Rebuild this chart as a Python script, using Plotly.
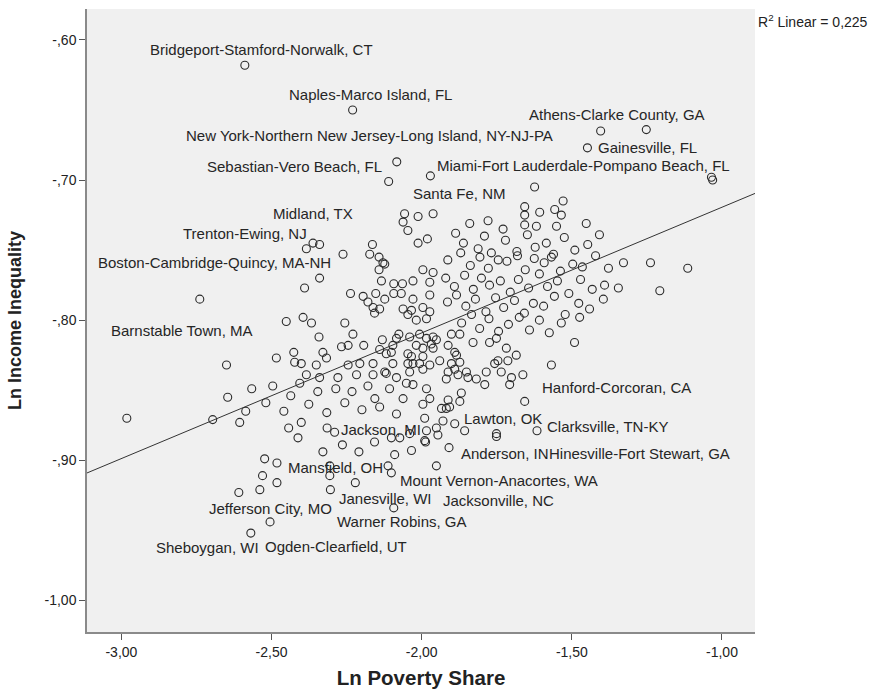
import plotly.graph_objects as go

# Ln poverty share / Ln income inequality for metropolitan areas (unlabelled points)
poverty = [
    -1.031, -1.035, -1.404, -1.624,
    -1.840, -1.779, -1.729, -1.657, -1.657, -1.607, -1.557, -1.529, -1.535, -1.657, -1.618, -1.551, -1.452,
    -2.057, -2.012, -2.062, -2.046, -2.012, -1.981, -2.340, -2.262, -2.164, -2.173, -2.142, -2.129, -2.142,
    -2.123, -1.996, -1.962, -2.390, -2.134, -2.093, -2.064, -2.029, -1.973, -2.237, -2.195, -2.153, -2.123,
    -2.093, -2.068, -2.029, -1.973, -2.179, -2.162, -2.140, -2.157, -2.062, -2.034, -1.996, -1.973, -2.451,
    -2.395, -2.367, -2.256, -2.046, -2.018, -1.984, -2.342, -2.229, -2.131, -2.076, -2.040, -2.007, -1.962,
    -2.267, -2.245, -2.193, -2.329, -2.426, -2.101, -2.118, -2.046, -1.996, -1.968, -1.951, -2.484, -2.423,
    -2.401, -2.317, -2.351, -2.650, -2.245, -2.206, -2.162, -2.096, -2.029, -1.973, -1.996, -2.384, -2.340,
    -2.279, -2.217, -2.162, -2.118, -2.040, -1.996,
    -1.491, -1.568, -1.663, -1.751, -1.829, -1.774, -1.751, -1.718, -1.685, -1.713, -1.757, -1.746, -1.785,
    -1.735, -1.701, -1.707, -1.790, -1.818, -1.846, -1.851, -1.879, -1.912, -1.918, -1.890, -1.901, -1.873,
    -1.884, -1.940, -2.007, -2.034, -2.046, -2.123, -2.084, -2.051, -2.029, -1.984, -2.107, -2.062, -1.996,
    -1.973, -1.934, -1.907, -1.873, -1.868, -1.912, -2.140, -2.084, -1.990, -1.929, -1.890, -1.951, -1.857,
    -1.984, -2.040, -2.073, -2.101, -1.990, -2.090, -2.034, -2.112, -2.084, -1.984, -1.901, -1.873, -1.912,
    -1.890, -2.140, -2.096, -2.018, -1.962,
    -2.523, -2.530, -2.482, -2.539, -2.329, -2.264, -2.209, -2.157, -2.306, -2.306, -2.221, -1.987, -1.946,
    -2.412, -2.443, -2.401, -2.606, -2.315,
    -2.982, -1.207,
    -1.887, -1.861, -1.812, -1.791, -1.768, -1.721, -1.683, -1.648, -1.622, -1.585, -1.561, -1.525, -1.490,
    -1.447, -1.408,
    -1.913, -1.870, -1.838, -1.806, -1.778, -1.745, -1.716, -1.681, -1.655, -1.625, -1.592, -1.568, -1.538,
    -1.497, -1.465, -1.421, -1.378, -1.328, -1.238, -1.114,
    -1.920, -1.891, -1.857, -1.828, -1.801, -1.774, -1.738, -1.705, -1.678, -1.644, -1.608, -1.581, -1.548,
    -1.510, -1.471, -1.432, -1.391, -1.345,
    -1.914, -1.884, -1.853, -1.821, -1.786, -1.754, -1.727, -1.691, -1.658, -1.628, -1.594, -1.558, -1.522,
    -1.477, -1.441, -1.395,
    -1.867, -1.834, -1.807, -1.776, -1.744, -1.711, -1.675, -1.641, -1.608, -1.575, -1.535, -1.474,
    -2.696, -2.646, -2.586, -2.566, -2.519, -2.496, -2.459, -2.436, -2.406, -2.376, -2.346, -2.316, -2.286,
    -2.256, -2.232, -2.199, -2.179, -2.156,
]
inequality = [
    -0.700, -0.698, -0.665, -0.705,
    -0.731, -0.729, -0.735, -0.719, -0.725, -0.723, -0.721, -0.715, -0.725, -0.732, -0.733, -0.733, -0.731,
    -0.724, -0.726, -0.730, -0.736, -0.745, -0.742, -0.746, -0.753, -0.746, -0.753, -0.755, -0.759, -0.764,
    -0.760, -0.764, -0.766, -0.777, -0.772, -0.774, -0.774, -0.772, -0.773, -0.781, -0.783, -0.781, -0.785,
    -0.781, -0.781, -0.785, -0.782, -0.787, -0.791, -0.792, -0.795, -0.792, -0.793, -0.791, -0.794, -0.801,
    -0.798, -0.802, -0.802, -0.796, -0.800, -0.799, -0.812, -0.810, -0.814, -0.810, -0.812, -0.810, -0.812,
    -0.819, -0.818, -0.818, -0.823, -0.823, -0.823, -0.824, -0.824, -0.820, -0.817, -0.814, -0.827, -0.830,
    -0.831, -0.827, -0.832, -0.832, -0.832, -0.831, -0.831, -0.831, -0.831, -0.832, -0.826, -0.839, -0.841,
    -0.841, -0.839, -0.839, -0.838, -0.837, -0.835,
    -0.816, -0.832, -0.839, -0.881, -0.816, -0.816, -0.813, -0.820, -0.825, -0.829, -0.831, -0.829, -0.837,
    -0.837, -0.841, -0.846, -0.846, -0.842, -0.841, -0.837, -0.839, -0.837, -0.842, -0.835, -0.831, -0.830,
    -0.825, -0.829, -0.831, -0.826, -0.831, -0.837, -0.841, -0.845, -0.846, -0.849, -0.849, -0.856, -0.860,
    -0.856, -0.863, -0.862, -0.858, -0.852, -0.857, -0.862, -0.867, -0.870, -0.872, -0.874, -0.877, -0.879,
    -0.879, -0.881, -0.884, -0.884, -0.886, -0.896, -0.893, -0.904, -0.813, -0.813, -0.810, -0.810, -0.818,
    -0.823, -0.821, -0.818, -0.818, -0.820,
    -0.899, -0.911, -0.916, -0.921, -0.894, -0.889, -0.894, -0.887, -0.904, -0.911, -0.916, -0.887, -0.882,
    -0.884, -0.877, -0.873, -0.873, -0.877,
    -0.870, -0.779,
    -0.738, -0.745, -0.749, -0.740, -0.752, -0.743, -0.751, -0.739, -0.748, -0.745, -0.753, -0.741, -0.750,
    -0.746, -0.739,
    -0.757, -0.752, -0.761, -0.755, -0.763, -0.757, -0.758, -0.754, -0.764, -0.756, -0.759, -0.755, -0.765,
    -0.760, -0.762, -0.754, -0.763, -0.759, -0.759, -0.763,
    -0.770, -0.776, -0.768, -0.778, -0.770, -0.775, -0.772, -0.780, -0.771, -0.777, -0.767, -0.776, -0.772,
    -0.781, -0.771, -0.778, -0.775, -0.777,
    -0.787, -0.782, -0.790, -0.785, -0.794, -0.784, -0.791, -0.786, -0.795, -0.788, -0.790, -0.783, -0.796,
    -0.788, -0.792, -0.785,
    -0.802, -0.796, -0.806, -0.799, -0.808, -0.803, -0.798, -0.807, -0.800, -0.809, -0.802, -0.798,
    -0.871, -0.855, -0.865, -0.849, -0.859, -0.847, -0.865, -0.854, -0.845, -0.860, -0.851, -0.866, -0.849,
    -0.859, -0.851, -0.864, -0.847, -0.856,
]

# Named metropolitan areas
label_names = [
    "Bridgeport-Stamford-Norwalk, CT", "Naples-Marco Island, FL",
    "New York-Northern New Jersey-Long Island, NY-NJ-PA", "Sebastian-Vero Beach, FL",
    "Miami-Fort Lauderdale-Pompano Beach, FL", "Gainesville, FL", "Athens-Clarke County, GA",
    "Santa Fe, NM", "Midland, TX", "Trenton-Ewing, NJ", "Boston-Cambridge-Quincy, MA-NH",
    "Barnstable Town, MA", "Hanford-Corcoran, CA", "Lawton, OK", "Clarksville, TN-KY",
    "Anderson, IN", "Hinesville-Fort Stewart, GA", "Mount Vernon-Anacortes, WA",
    "Jacksonville, NC", "Janesville, WI", "Warner Robins, GA", "Jackson, MI", "Mansfield, OH",
    "Jefferson City, MO", "Ogden-Clearfield, UT", "Sheboygan, WI",
]
label_poverty = [
    -2.589, -2.230, -2.083, -2.110, -1.971, -1.448, -1.252, -1.962, -2.362, -2.384, -2.340,
    -2.739, -1.657, -1.918, -1.616, -1.909, -1.751, -2.101, -1.951, -2.304, -2.093, -2.290,
    -2.482, -2.609, -2.505, -2.569,
]
label_inequality = [
    -0.618, -0.650, -0.687, -0.701, -0.697, -0.677, -0.664, -0.724, -0.745, -0.749, -0.770,
    -0.785, -0.858, -0.863, -0.879, -0.891, -0.883, -0.909, -0.904, -0.921, -0.934, -0.880,
    -0.902, -0.923, -0.944, -0.952,
]

# Linear fit shown on the chart
fit_intercept = -0.6297
fit_slope = 0.0897
r_squared = "0,225"

x_range = [-3.1146, -0.890]
y_range = [-1.0226, -0.5779]
x_tickvals = [-3.0, -2.5, -2.0, -1.5, -1.0]
x_ticktext = ["-3,00", "-2,50", "-2,00", "-1,50", "-1,00"]
y_tickvals = [-1.0, -0.9, -0.8, -0.7, -0.6]
y_ticktext = ["-1,00", "-,90", "-,80", "-,70", "-,60"]

# label placement (pixel offsets from the point, left edge of text)
label_offsets = [
    (-97, 16), (-66, 16), (-213, 26), (-184, 15), (5, 10), (9, 0), (-119, 15),
    (-22, 20), (-42, 30), (-125, 15), (-224, 16), (-91, -31), (15, 14), (16, -10),
    (8, 4), (10, -6), (51, -17), (7, -8), (5, -35), (7, -9), (-59, -14), (4, 3),
    (9, -4), (-32, -16), (-7, -25), (-97, -14),
]

FONT = "Liberation Sans, Arial, sans-serif"
marker_style = dict(symbol="circle-open", size=8, color="#2b2b2b", line=dict(width=1.1))

fig = go.Figure()
fig.add_trace(go.Scatter(
    x=poverty + label_poverty, y=inequality + label_inequality,
    mode="markers", marker=marker_style, showlegend=False, hoverinfo="skip",
))
fig.add_trace(go.Scatter(
    x=x_range, y=[fit_intercept + fit_slope * v for v in x_range],
    mode="lines", line=dict(color="#333333", width=1), showlegend=False, hoverinfo="skip",
))

for name, px, py, (dx, dy) in zip(label_names, label_poverty, label_inequality, label_offsets):
    fig.add_annotation(
        x=px, y=py, text=name, showarrow=False, xanchor="left", yanchor="middle",
        xshift=dx, yshift=dy, font=dict(family=FONT, size=15, color="#262626"),
    )

fig.add_annotation(
    xref="paper", yref="paper", x=1.0, y=1.0, xshift=1, yshift=-12,
    text="R<sup>2</sup> Linear = " + r_squared, showarrow=False, xanchor="left", yanchor="middle",
    font=dict(family=FONT, size=14, color="#222222"),
)

axis_common = dict(
    showgrid=False, zeroline=False, showline=True, linecolor="#8a8a8a", linewidth=1.5,
    ticks="outside", ticklen=6, tickwidth=1.3, tickcolor="#555555",
    tickfont=dict(family=FONT, size=14, color="#222222"),
)
fig.update_xaxes(
    range=x_range, tickvals=x_tickvals, ticktext=x_ticktext,
    title=dict(text="<b>Ln Poverty Share</b>", standoff=12,
               font=dict(family=FONT, size=20.5, color="#222222")),
    **axis_common,
)
fig.update_yaxes(
    range=y_range, tickvals=y_tickvals, ticktext=y_ticktext,
    title=dict(text="<b>Ln Income Inequality</b>", standoff=18,
               font=dict(family=FONT, size=18, color="#222222")),
    **axis_common,
)
fig.update_layout(
    width=879, height=697, margin=dict(l=87, r=124, t=9, b=65),
    paper_bgcolor="white", plot_bgcolor="#f0f0f0",
)
fig.write_html("out.html")
